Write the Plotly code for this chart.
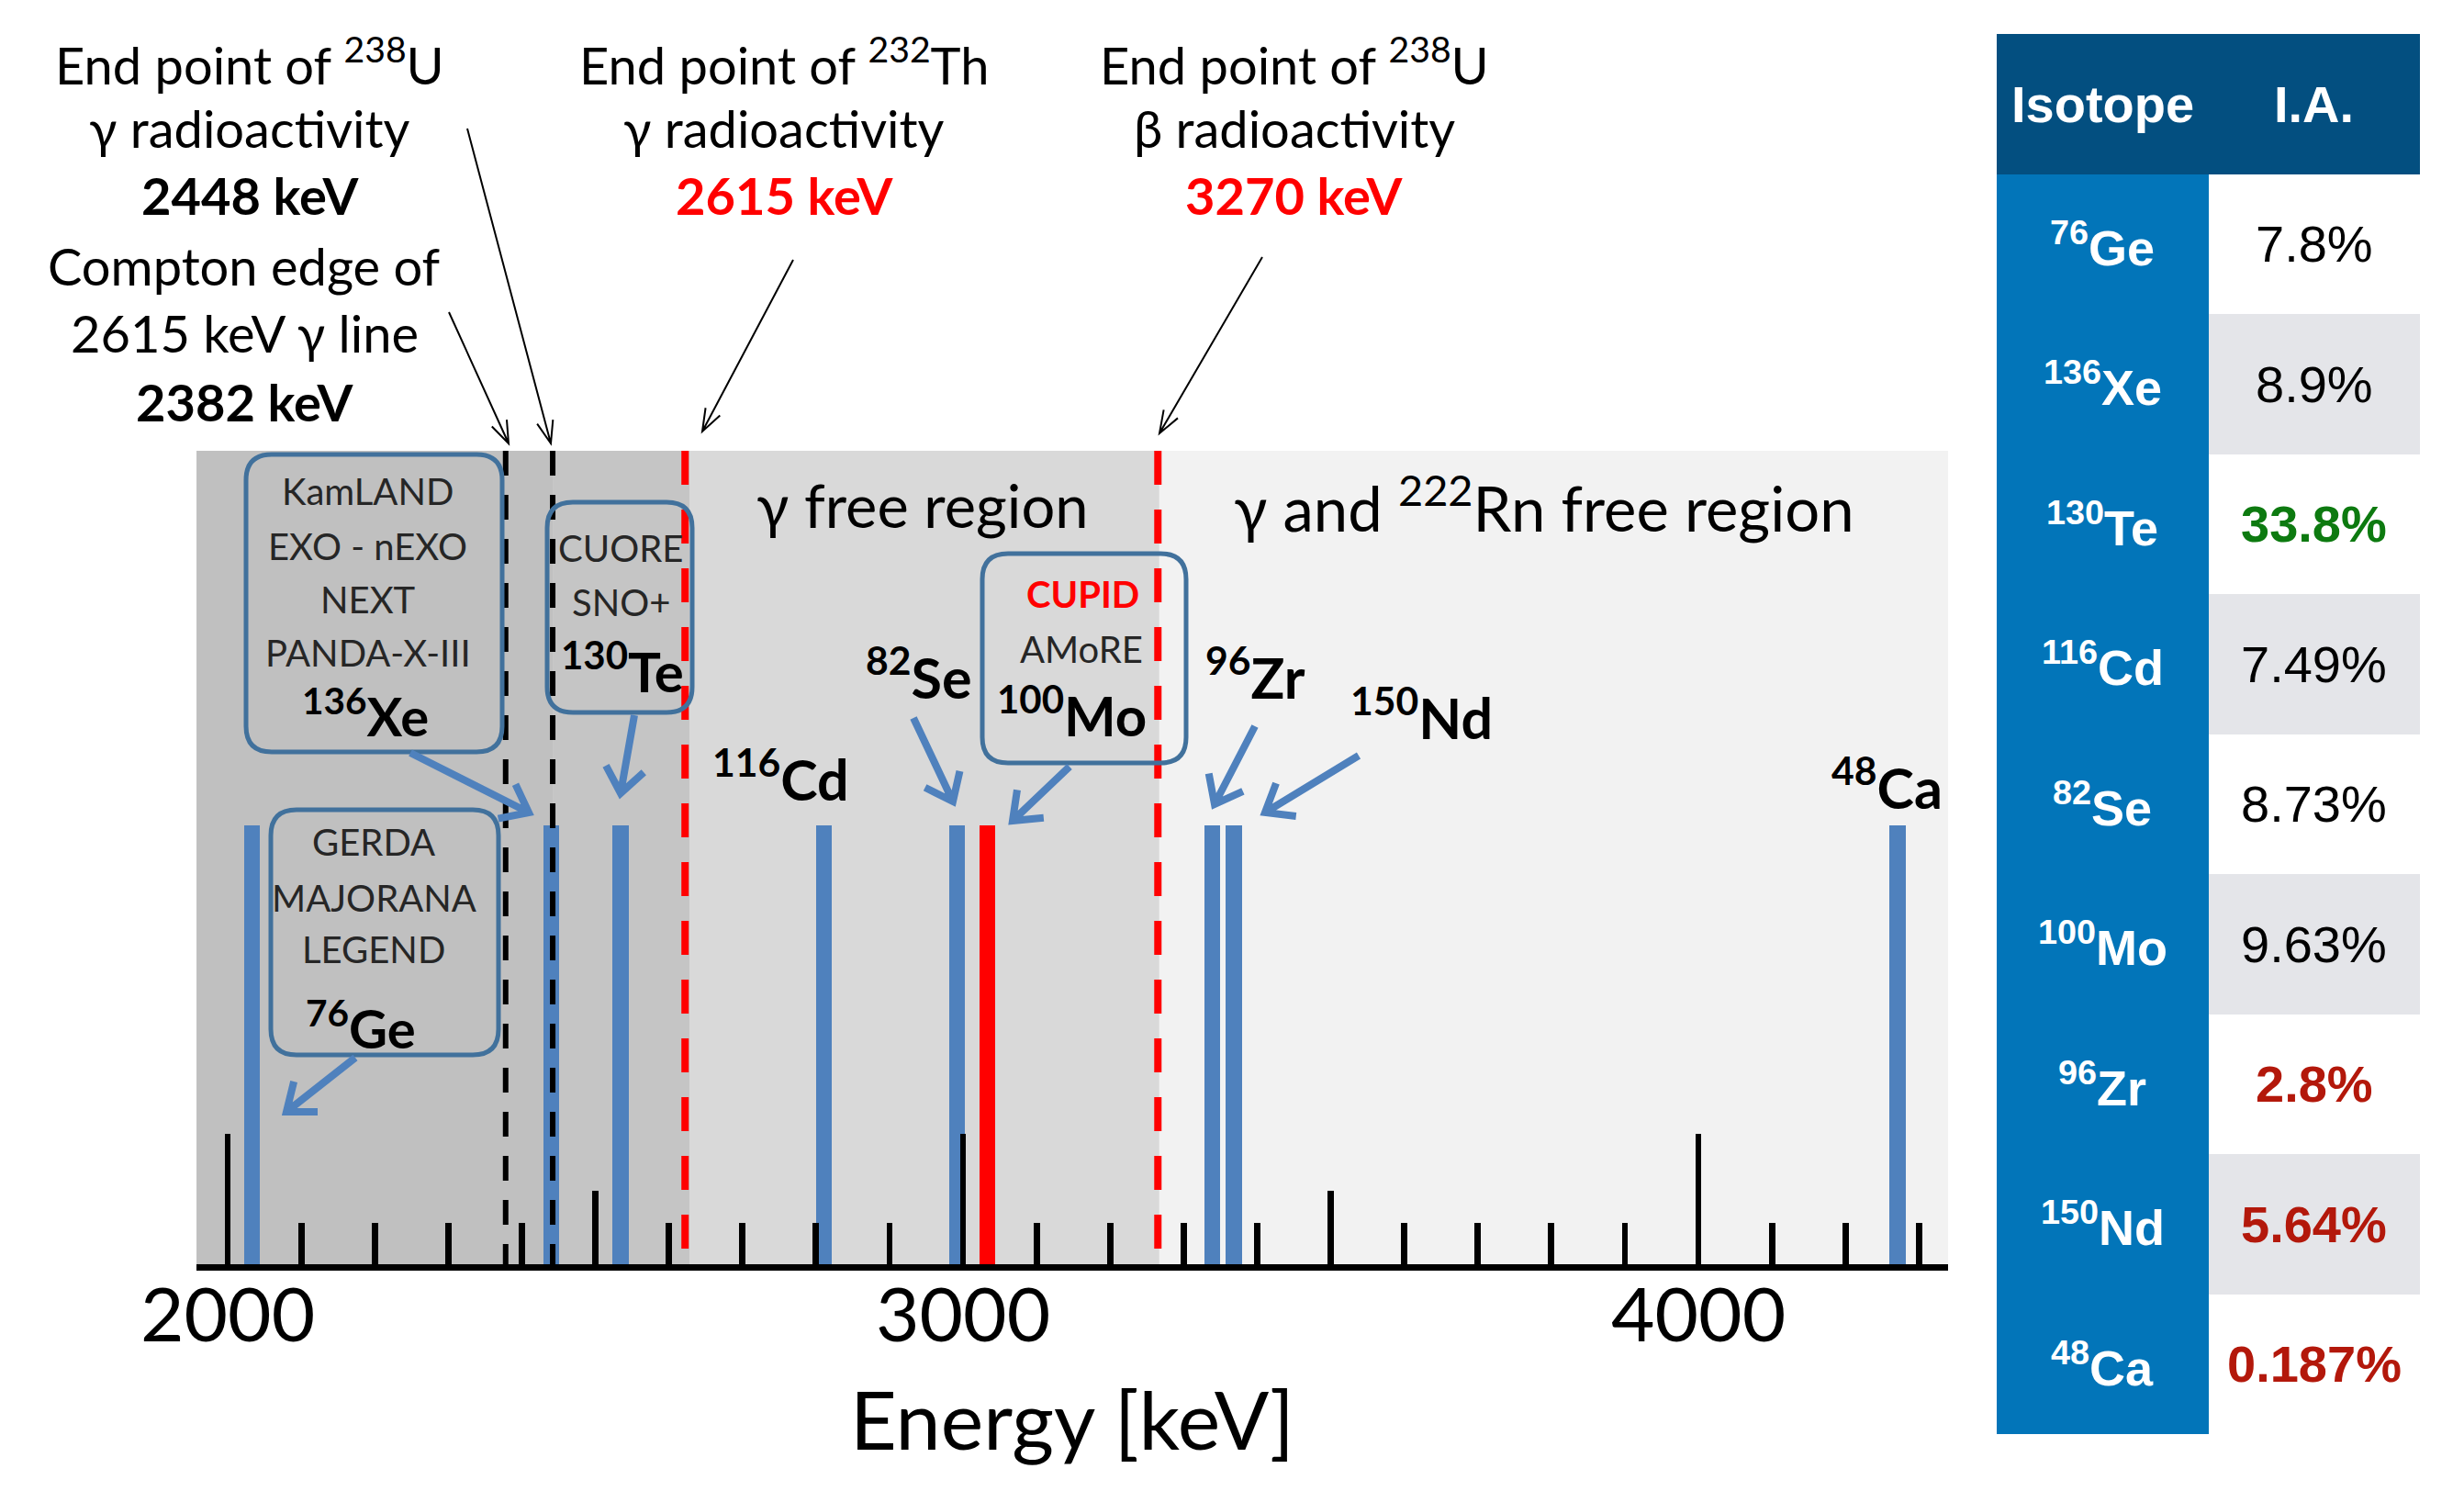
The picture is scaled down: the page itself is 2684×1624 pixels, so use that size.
import math
import plotly.graph_objects as go

W, H = 2684, 1624

# ---------------- data ----------------
isotope_names = ["76Ge", "136Xe", "130Te", "116Cd", "82Se", "100Mo", "96Zr", "150Nd", "48Ca"]
q_values_kev = [2033, 2440, 2534, 2811, 2992, 3033, 3339, 3368, 4271]
bar_heights = [54, 54, 54, 54, 54, 54, 54, 54, 54]
bar_colors = ["#4f81bd", "#4f81bd", "#4f81bd", "#4f81bd", "#4f81bd", "#ff0000", "#4f81bd", "#4f81bd", "#4f81bd"]

tick_energies = [2000, 2100, 2200, 2300, 2400, 2500, 2600, 2700, 2800, 2900,
                 3000, 3100, 3200, 3300, 3400, 3500, 3600, 3700, 3800, 3900,
                 4000, 4100, 4200, 4300]
tick_heights = [16, 5.1, 5.1, 5.1, 5.1, 9, 5.1, 5.1, 5.1, 5.1,
                16, 5.1, 5.1, 5.1, 5.1, 9, 5.1, 5.1, 5.1, 5.1,
                16, 5.1, 5.1, 5.1]
axis_labels = [2000, 3000, 4000]

line_energies = [2378, 2442, 2622, 3265]
line_colors = ["black", "black", "#ff0000", "#ff0000"]
line_dashes = ["27px,21px", "27px,21px", "37px,27px", "37px,27px"]
line_widths = [6, 6, 8, 8]

region_edges = [1957.6, 2442, 2628, 3267, 4339.6]
region_colors = ["#c0c0c0", "#c5c5c5", "#d9d9d9", "#f2f2f2"]

table_header = ["Isotope", "I.A."]
table_isotopes = ["<sup>76</sup>Ge", "<sup>136</sup>Xe", "<sup>130</sup>Te", "<sup>116</sup>Cd",
                  "<sup>82</sup>Se", "<sup>100</sup>Mo", "<sup>96</sup>Zr", "<sup>150</sup>Nd",
                  "<sup>48</sup>Ca"]
table_ia = ["7.8%", "8.9%", "33.8%", "7.49%", "8.73%", "9.63%", "2.8%", "5.64%", "0.187%"]
table_ia_colors = ["black", "black", "#0d7a10", "black", "black", "black", "#b3180b", "#b3180b", "#b3180b"]
table_ia_bold = [False, False, True, False, False, False, True, True, True]

# ---------------- geometry helpers ----------------
PLOT_L, PLOT_R, PLOT_T, PLOT_B = 214, 2122, 491, 1377
PX0, PX_PER_KEV = 248, 0.801
X_RANGE = [2000 + (PLOT_L - PX0) / PX_PER_KEV, 2000 + (PLOT_R - PX0) / PX_PER_KEV]
Y_RANGE = [0, 100]
PX_PER_Y = (PLOT_B - PLOT_T) / 100.0


def kev(px):
    return 2000 + (px - PX0) / PX_PER_KEV


def yv(py):
    return (PLOT_B - py) / PX_PER_Y


def xp(px):
    return px / W


def yp(py):
    return 1 - py / H


LATO = "Lato, 'Open Sans', sans-serif"
ARIAL = "'Liberation Sans', Arial, Helvetica, sans-serif"

fig = go.Figure()

# isotope Q-value bars
fig.add_trace(go.Bar(x=q_values_kev, y=bar_heights, width=22, marker=dict(color=bar_colors, line=dict(width=0)),
                     hoverinfo="skip", showlegend=False))
# tick marks drawn as thin bars
fig.add_trace(go.Bar(x=tick_energies, y=tick_heights, width=8.5, marker=dict(color="black", line=dict(width=0)),
                     hoverinfo="skip", showlegend=False))
# dashed reference lines
for e, c, d, w in zip(line_energies, line_colors, line_dashes, line_widths):
    fig.add_trace(go.Scatter(x=[e, e], y=[100, 0], mode="lines",
                             line=dict(color=c, dash=d, width=w), hoverinfo="skip", showlegend=False))

# table as heatmap
z = [[0, 0]]
for i in range(len(table_isotopes)):
    z.append([1, 2 if i % 2 == 0 else 3])
colorscale = [[0, "#034f80"], [0.1666, "#034f80"], [0.1667, "#0275b9"], [0.5, "#0275b9"],
              [0.5001, "#ffffff"], [0.8333, "#ffffff"], [0.8334, "#e4e5e9"], [1, "#e4e5e9"]]
fig.add_trace(go.Heatmap(z=z, x=[0, 1], y=list(range(len(z))), zmin=0, zmax=3, colorscale=colorscale,
                         showscale=False, hoverinfo="skip", xaxis="x2", yaxis="y2"))

shapes = []
# background regions
for i, col in enumerate(region_colors):
    shapes.append(dict(type="rect", xref="x", yref="y", x0=region_edges[i], x1=region_edges[i + 1],
                       y0=0, y1=100, fillcolor=col, line=dict(width=0), layer="below"))


def rounded_box(px0, py0, px1, py1, r=28):
    x0, x1 = kev(px0), kev(px1)
    y0, y1 = yv(py1), yv(py0)
    rx = r / PX_PER_KEV
    ry = r / PX_PER_Y
    path = (f"M{x0 + rx},{y1} L{x1 - rx},{y1} Q{x1},{y1} {x1},{y1 - ry} "
            f"L{x1},{y0 + ry} Q{x1},{y0} {x1 - rx},{y0} L{x0 + rx},{y0} "
            f"Q{x0},{y0} {x0},{y0 + ry} L{x0},{y1 - ry} Q{x0},{y1} {x0 + rx},{y1} Z")
    return dict(type="path", xref="x", yref="y", path=path, line=dict(color="#41719c", width=5),
                fillcolor="rgba(0,0,0,0)", layer="above")


shapes.append(rounded_box(268, 495, 547, 819))   # Xe
shapes.append(rounded_box(295, 882, 543, 1149))  # Ge
shapes.append(rounded_box(596, 547, 754, 776))   # Te
shapes.append(rounded_box(1070, 603, 1292, 831))  # Mo


def arrow(tail, tip, color, width, head_len, head_ang):
    dx, dy = tip[0] - tail[0], tip[1] - tail[1]
    n = math.hypot(dx, dy)
    ux, uy = dx / n, dy / n
    pts = []
    for s in (1, -1):
        a = math.radians(head_ang) * s
        rx = ux * math.cos(a) - uy * math.sin(a)
        ry = ux * math.sin(a) + uy * math.cos(a)
        pts.append((tip[0] - head_len * rx, tip[1] - head_len * ry))
    path = (f"M{xp(tail[0])},{yp(tail[1])} L{xp(tip[0])},{yp(tip[1])} "
            f"M{xp(pts[0][0])},{yp(pts[0][1])} L{xp(tip[0])},{yp(tip[1])} L{xp(pts[1][0])},{yp(pts[1][1])}")
    shapes.append(dict(type="path", xref="paper", yref="paper", path=path,
                       line=dict(color=color, width=width), layer="above"))


# thin black arrows
arrow((509, 140), (600, 483), "black", 2, 26, 20)
arrow((489, 340), (554, 483), "black", 2, 26, 20)
arrow((864, 283), (765, 470), "black", 2, 26, 20)
arrow((1375, 280), (1263, 472), "black", 2, 26, 20)

# blue arrows
BA = "#4f81bd"
arrow((447, 820), (576, 885), BA, 8, 34, 38)
arrow((691, 779), (676, 864), BA, 8, 34, 38)
arrow((387, 1152), (312, 1211), BA, 8, 34, 38)
arrow((995, 782), (1038, 873), BA, 8, 34, 38)
arrow((1165, 835), (1103, 894), BA, 8, 34, 38)
arrow((1367, 791), (1323, 876), BA, 8, 34, 38)
arrow((1480, 823), (1378, 885), BA, 8, 34, 38)

annotations = []


def text(px, pybase, t, size, color="black", font=LATO):
    annotations.append(dict(x=xp(px), y=yp(pybase - 0.37 * size), xref="paper", yref="paper",
                            text=t, showarrow=False, xanchor="center", yanchor="middle",
                            font=dict(family=font, size=size, color=color)))


# axis tick labels (positioned on the energy axis) and axis title
for v in axis_labels:
    annotations.append(dict(x=v, y=yp(1459 - 0.37 * 82), xref="x", yref="paper", text=str(v),
                            showarrow=False, xanchor="center", yanchor="middle",
                            font=dict(family=LATO, size=82, color="black")))
text(1168, 1578, "Energy [keV]", 88)

# top explanatory blocks
TOP = 56
text(272, 87, "End point of <sup>238</sup>U", TOP)
text(272, 160, "γ radioactivity", TOP)
text(272, 233, "<b>2448 keV</b>", TOP)
text(266, 310, "Compton edge of", TOP)
text(266, 383, "2615 keV γ line", TOP)
text(266, 458, "<b>2382 keV</b>", TOP)
text(854, 87, "End point of <sup>232</sup>Th", TOP)
text(854, 160, "γ radioactivity", TOP)
text(854, 233, "<b>2615 keV</b>", TOP, "#ff0000")
text(1410, 87, "End point of <sup>238</sup>U", TOP)
text(1410, 160, "β radioactivity", TOP)
text(1410, 233, "<b>3270 keV</b>", TOP, "#ff0000")

# region labels
text(1005, 574, "γ free region", 65)
text(1682, 574, "γ and <sup>222</sup>Rn free region", 67)

# boxes text
BX = 40
BC = "#262626"
text(401, 550, "KamLAND", BX, BC)
text(401, 610, "EXO - nEXO", BX, BC)
text(401, 668, "NEXT", BX, BC)
text(401, 726, "PANDA-X-III", BX, BC)
text(398, 797, "<b><sup>136</sup>Xe</b>", 58)
text(407, 932, "GERDA", BX, BC)
text(407, 993, "MAJORANA", BX, BC)
text(407, 1049, "LEGEND", BX, BC)
text(393, 1137, "<b><sup>76</sup>Ge</b>", 58)
text(676, 612, "CUORE", BX, BC)
text(676, 671, "SNO+", BX, BC)
text(678, 750, "<b><sup>130</sup>Te</b>", 60)
text(1179, 662, "<b>CUPID</b>", BX, "#ff0000")
text(1178, 722, "AMoRE", BX, BC)
text(1167, 798, "<b><sup>100</sup>Mo</b>", 60)

# free isotope labels
ISO = 61
text(850, 867, "<b><sup>116</sup>Cd</b>", ISO)
text(1000, 756, "<b><sup>82</sup>Se</b>", ISO)
text(1367, 756, "<b><sup>96</sup>Zr</b>", ISO)
text(1548, 800, "<b><sup>150</sup>Nd</b>", ISO)
text(2055, 876, "<b><sup>48</sup>Ca</b>", ISO)

# table text
for j, htxt in enumerate(table_header):
    annotations.append(dict(x=j, y=0, xref="x2", yref="y2", text=f"<b>{htxt}</b>", showarrow=False,
                            xanchor="center", yanchor="middle",
                            font=dict(family=ARIAL, size=56, color="white")))
for i, (iso, ia, col, bd) in enumerate(zip(table_isotopes, table_ia, table_ia_colors, table_ia_bold)):
    annotations.append(dict(x=0, y=i + 1, xref="x2", yref="y2", text=f"<b>{iso}</b>", showarrow=False,
                            xanchor="center", yanchor="middle",
                            font=dict(family=ARIAL, size=54, color="white")))
    t = f"<b>{ia}</b>" if bd else ia
    annotations.append(dict(x=1, y=i + 1, xref="x2", yref="y2", text=t, showarrow=False,
                            xanchor="center", yanchor="middle",
                            font=dict(family=ARIAL, size=56, color=col)))

fig.update_layout(
    width=W, height=H, margin=dict(l=0, r=0, t=0, b=0),
    paper_bgcolor="white", plot_bgcolor="rgba(0,0,0,0)",
    showlegend=False, barmode="overlay", bargap=0,
    shapes=shapes, annotations=annotations,
    xaxis=dict(domain=[PLOT_L / W, PLOT_R / W], range=X_RANGE, tickvals=axis_labels,
               showticklabels=False,
               showline=True, linecolor="black", linewidth=7, ticks="", showgrid=False, zeroline=False,
               automargin=False, fixedrange=True),
    yaxis=dict(domain=[1 - PLOT_B / H, 1 - PLOT_T / H], range=Y_RANGE, visible=False, fixedrange=True),
    xaxis2=dict(domain=[2175 / W, 2636 / W], range=[-0.5, 1.5], visible=False, anchor="y2", fixedrange=True),
    yaxis2=dict(domain=[1 - 1562 / H, 1 - 37 / H], range=[9.5, -0.5], visible=False, anchor="x2", fixedrange=True),
)

fig.write_html("out.html", config={"displayModeBar": False, "staticPlot": True},
               post_script="document.body.style.margin='0px';document.body.style.overflow='hidden';")
